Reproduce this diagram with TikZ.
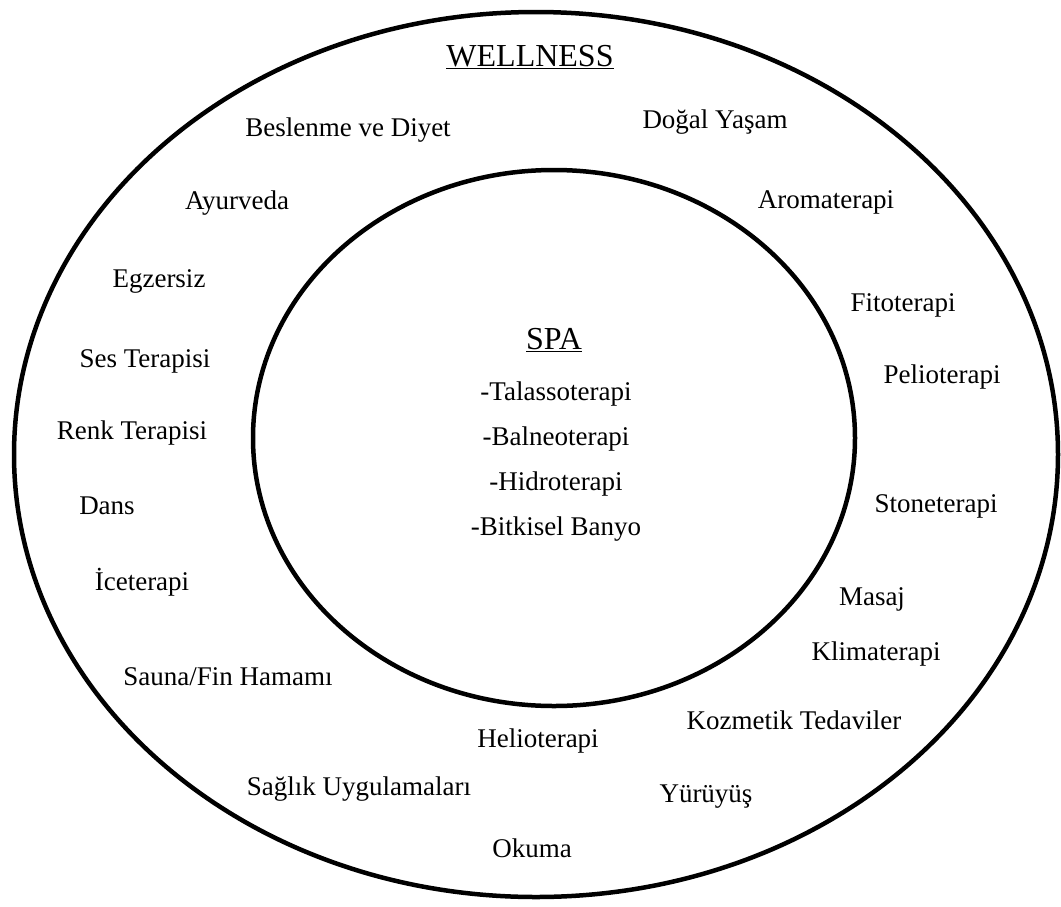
\documentclass[tikz,border=0pt]{standalone}
\usepackage{fontspec}
\setmainfont{Liberation Serif}
\begin{document}
\begin{tikzpicture}[x=1pt,y=-1pt,
  ring/.style={line width=4.5pt},
  item/.style={anchor=base,inner sep=0pt,font=\fontsize{27}{30}\selectfont},
  head/.style={anchor=base,inner sep=0pt,font=\fontsize{32}{36}\selectfont}]
\useasboundingbox (0,0) rectangle (1061,906);
% the two rings
\draw[ring] (536,454.5) ellipse [x radius=522, y radius=442.5];
\draw[ring] (554,438) ellipse [x radius=301, y radius=268];
% outer ring: wellness
\node[head] (wellness) at (530,66) {\underline{WELLNESS}};
\node[item] (beslenme) at (348,136) {Beslenme ve Diyet};
\node[item] (dogal) at (715,128) {Doğal Yaşam};
\node[item] (ayurveda) at (237,209) {Ayurveda};
\node[item] (aroma) at (826,208) {Aromaterapi};
\node[item] (egzersiz) at (159,287) {Egzersiz};
\node[item] (fito) at (903,311) {Fitoterapi};
\node[item] (ses) at (145,367) {Ses Terapisi};
\node[item] (pelio) at (942,383) {Pelioterapi};
\node[item] (renk) at (132,439) {Renk Terapisi};
\node[item] (dans) at (107,514) {Dans};
\node[item] (stone) at (936,512) {Stoneterapi};
\node[item] (ice) at (142,590) {İceterapi};
\node[item] (masaj) at (872,605) {Masaj};
\node[item] (klima) at (876,660) {Klimaterapi};
\node[item] (sauna) at (228,685) {Sauna/Fin Hamamı};
\node[item] (kozmetik) at (794,729) {Kozmetik Tedaviler};
\node[item] (helio) at (538,747) {Helioterapi};
\node[item] (saglik) at (359,795) {Sağlık Uygulamaları};
\node[item] (yuruyus) at (706,802) {Yürüyüş};
\node[item] (okuma) at (532,857) {Okuma};
% inner ring: spa
\node[head] (spa) at (554,349) {\underline{SPA}};
\node[item] (talasso) at (556,400) {-Talassoterapi};
\node[item] (balneo) at (556,445) {-Balneoterapi};
\node[item] (hidro) at (556,490) {-Hidroterapi};
\node[item] (bitkisel) at (556,535) {-Bitkisel Banyo};
\end{tikzpicture}
\end{document}
